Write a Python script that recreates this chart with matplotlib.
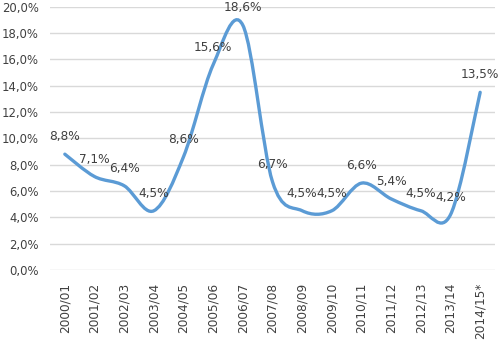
import matplotlib
matplotlib.use("Agg")
import matplotlib.pyplot as plt
import numpy as np
from matplotlib.path import Path
from matplotlib.patches import PathPatch
from matplotlib.ticker import FuncFormatter

seasons = ["2000/01", "2001/02", "2002/03", "2003/04", "2004/05", "2005/06",
           "2006/07", "2007/08", "2008/09", "2009/10", "2010/11", "2011/12",
           "2012/13", "2013/14", "2014/15*"]
growth = [8.8, 7.1, 6.4, 4.5, 8.6, 15.6, 18.6, 6.7, 4.5, 4.5, 6.6, 5.4,
          4.5, 4.2, 13.5]

LINE = "#5B9BD5"
TEXT = "#404040"
GRID = "#D9D9D9"

plt.rcParams["font.family"] = ["DejaVu Sans"]


def smooth_path(xs, ys):
    # Excel-style smoothed line: cubic Bezier segments with Catmull-Rom tangents
    pts = np.column_stack([xs, ys]).astype(float)
    ext = np.vstack([pts[0], pts, pts[-1]])
    verts = [tuple(pts[0])]
    codes = [Path.MOVETO]
    for i in range(len(pts) - 1):
        p0, p1, p2, p3 = ext[i], ext[i + 1], ext[i + 2], ext[i + 3]
        verts += [tuple(p1 + (p2 - p0) / 6), tuple(p2 - (p3 - p1) / 6), tuple(p2)]
        codes += [Path.CURVE4] * 3
    return Path(verts, codes)


fig = plt.figure(figsize=(5, 3.4), dpi=100)
ax = fig.add_axes([0.1, 0.206, 0.89, 0.774])

x = np.arange(len(seasons))
ax.add_patch(PathPatch(smooth_path(x, growth), facecolor="none",
                       edgecolor=LINE, lw=2.4, capstyle="round", zorder=3))

for xi, v in zip(x, growth):
    ax.annotate(f"{v:.1f}%".replace(".", ","), (xi, v), xytext=(0, 12.5),
                textcoords="offset points", ha="center", va="center",
                fontsize=8.7, color=TEXT, zorder=4)

ax.set_xlim(-0.5, len(seasons) - 0.5)
ax.set_ylim(0, 20)
ax.set_yticks(np.arange(0, 21, 2))
ax.yaxis.set_major_formatter(FuncFormatter(lambda v, _: f"{v:.1f}%".replace(".", ",")))
ax.set_xticks(x)
ax.set_xticklabels(seasons, rotation=90)
ax.tick_params(axis="both", length=0, labelsize=8.7, labelcolor=TEXT)
ax.tick_params(axis="x", pad=9)
ax.tick_params(axis="y", pad=8, labelsize=8.4)

ax.grid(axis="y", color=GRID, lw=1)
ax.set_axisbelow(True)
for s in ax.spines.values():
    s.set_visible(False)

fig.savefig("out.png", dpi=100)
